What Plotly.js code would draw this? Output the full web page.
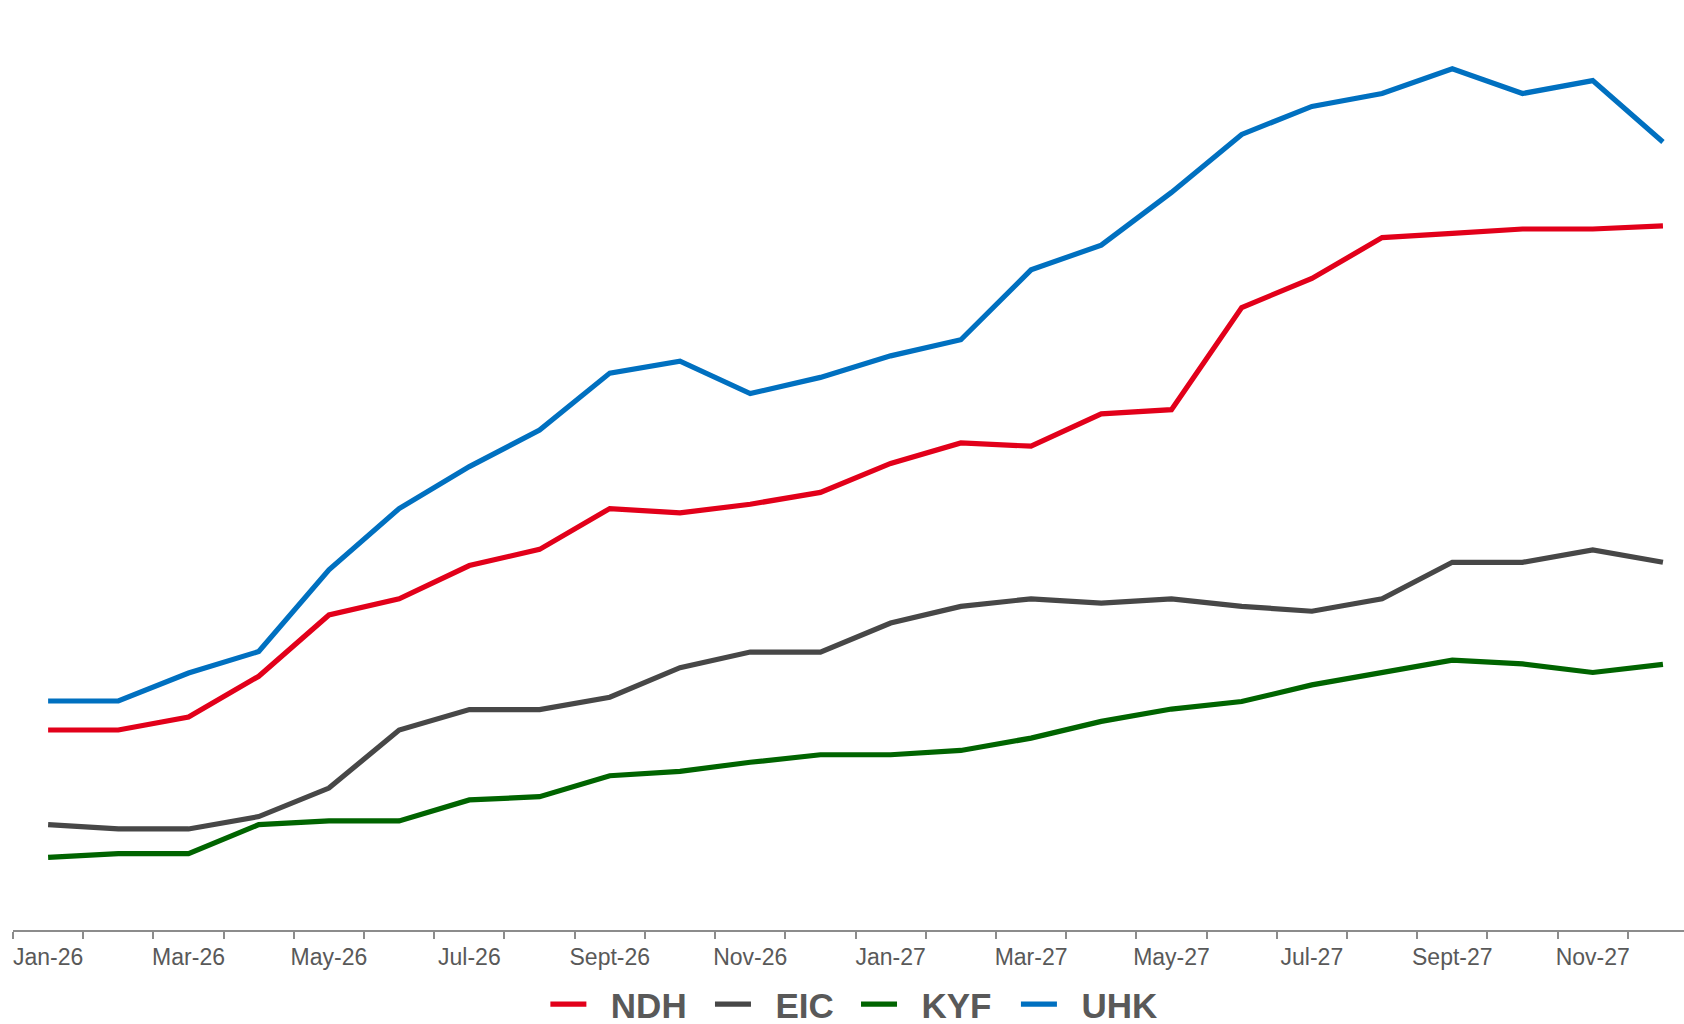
<!DOCTYPE html>
<html>
<head>
<meta charset="utf-8">
<script src="https://cdn.plot.ly/plotly-3.0.1.min.js"></script>
<style>
html,body{margin:0;padding:0;background:#fff;}
#chart{width:1684px;height:1024px;}
</style>
</head>
<body>
<div id="chart"></div>
<script>
const months = ["Jan-26","Feb-26","Mar-26","Apr-26","May-26","Jun-26","Jul-26","Aug-26","Sept-26","Oct-26","Nov-26","Dec-26",
                "Jan-27","Feb-27","Mar-27","Apr-27","May-27","Jun-27","Jul-27","Aug-27","Sept-27","Oct-27","Nov-27","Dec-27"];
const seriesNames = ["NDH","EIC","KYF","UHK"];
const NDH = [37.2,37.2,39.6,47.2,58.6,61.6,67.8,70.8,78.4,77.6,79.2,81.4,86.8,90.6,90.0,96.0,96.8,115.8,121.2,128.8,129.6,130.4,130.4,131.0];
const EIC = [19.6,18.8,18.8,21.1,26.4,37.2,41.0,41.0,43.3,48.8,51.7,51.7,57.1,60.2,61.6,60.8,61.6,60.2,59.3,61.6,68.4,68.4,70.7,68.4];
const KYF = [13.5,14.2,14.2,19.6,20.3,20.3,24.2,24.8,28.7,29.5,31.2,32.6,32.6,33.4,35.7,38.8,41.1,42.5,45.6,47.8,50.2,49.5,47.9,49.4];
const UHK = [42.6,42.6,47.8,51.8,67.0,78.4,86.2,93.0,103.6,105.8,99.8,102.8,106.8,109.8,122.8,127.4,137.2,148.0,153.2,155.6,160.2,155.6,158.0,146.6];
const colors = ["#e2001a","#474747","#006400","#0070c0"];

const idx = months.map((m,i)=>i);
const labelIdx = idx.filter(i=>i%2===0);
const labelText = labelIdx.map(i=>months[i]);

const legendIds = ["legend","legend2","legend3","legend4"];
const legendX = [0.3186, 0.4171, 0.5045, 0.6002];

const data = [NDH,EIC,KYF,UHK].map((vals,k)=>({
  type:"scatter", mode:"lines", name:"\u00A0\u00A0" + seriesNames[k],
  x: idx, y: vals,
  line:{color:colors[k], width:5.2},
  legend: legendIds[k],
  hoverinfo:"skip"
}));

const layout = {
  width:1684, height:1024,
  margin:{l:13, r:0, t:0, b:94, autoexpand:false},
  paper_bgcolor:"#ffffff", plot_bgcolor:"#ffffff",
  font:{family:"Liberation Sans, Arial, sans-serif", color:"#595959"},
  showlegend:true,
  xaxis:{
    range:[-0.5, 23.3], showgrid:false, zeroline:false,
    showline:true, linecolor:"#8c8c8c", linewidth:2,
    tickmode:"array", tickvals:labelIdx, ticktext:labelText, ticks:"",
    tickfont:{size:23, color:"#595959"},
    ticklabelstandoff:5,
    minor:{tick0:-0.5, dtick:1, ticks:"outside", ticklen:7, tickwidth:2, tickcolor:"#8c8c8c", showgrid:false}
  },
  yaxis:{range:[0,173], visible:false, showgrid:false, zeroline:false, fixedrange:true}
};
legendIds.forEach((id,k)=>{
  layout[id] = {orientation:"h", x:legendX[k], xanchor:"left", y:-0.080, yanchor:"middle",
    font:{size:35, color:"#595959", family:"Liberation Sans, Arial, sans-serif", weight:"bold"},
    itemwidth:36, bgcolor:"rgba(0,0,0,0)", borderwidth:0};
});

Plotly.newPlot("chart", data, layout, {displayModeBar:false, staticPlot:true});
</script>
</body>
</html>
